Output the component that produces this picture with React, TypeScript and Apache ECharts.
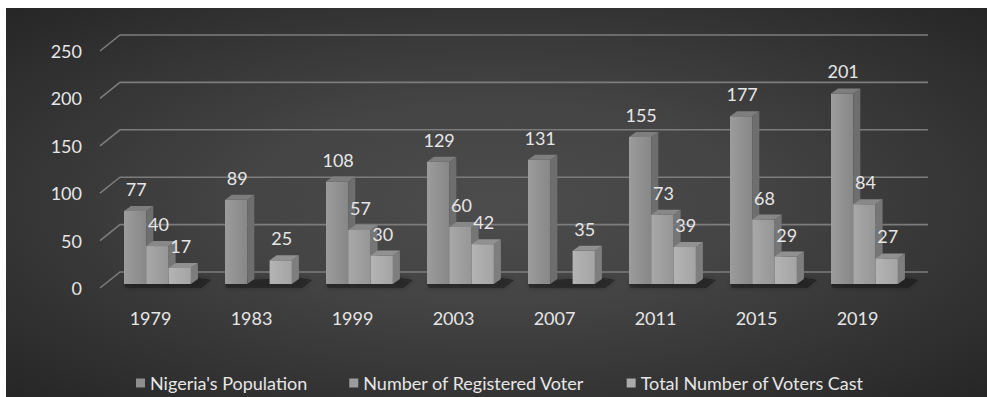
import React, { useEffect, useRef } from "react";
import * as echarts from "echarts";

const categories = ["1979", "1983", "1999", "2003", "2007", "2011", "2015", "2019"];
const population = [77, 89, 108, 129, 131, 155, 177, 201];
const registered: (number | null)[] = [40, null, 57, 60, null, 73, 68, 84];
const votesCast = [17, 25, 30, 42, 35, 39, 29, 27];
const yTicks = [0, 50, 100, 150, 200, 250];
const seriesNames = ["Nigeria's Population", "Number of Registered Voter", "Total Number of Voters Cast"];

const FONT = "Lato";
const FS = 18;
const TXT = "#e6e6e6";
const BAR_W = 22.3;
const START = -26.5;
const BAR_DY = -4;
const DEP_X = 7;
const DEP_Y = -5;

const faces = [
  { front: ["#9c9c9c", "#878787"], side: "#6e6e6e", top: "#7e7e7e" },
  { front: ["#a8a8a8", "#969696"], side: "#767676", top: "#888888" },
  { front: ["#b4b4b4", "#a4a4a4"], side: "#7e7e7e", top: "#919191" },
];

function barRenderer(s: number) {
  return (params: any, api: any) => {
    const idx = api.value(0);
    const v = api.value(1);
    if (!isFinite(v)) return null;
    const base = api.coord([idx, 0]);
    const topP = api.coord([idx, v]);
    const x0 = base[0] + START + s * BAR_W;
    const yb = base[1] + BAR_DY;
    const yt = topP[1] + BAR_DY;
    const f = faces[s];
    return {
      type: "group",
      children: [
        {
          type: "rect",
          shape: { x: x0, y: yt, width: BAR_W, height: yb - yt },
          style: {
            fill: new echarts.graphic.LinearGradient(0, 0, 1, 0, [
              { offset: 0, color: f.front[0] },
              { offset: 1, color: f.front[1] },
            ]),
          },
        },
        {
          type: "polygon",
          shape: {
            points: [
              [x0 + BAR_W, yb],
              [x0 + BAR_W, yt],
              [x0 + BAR_W + DEP_X, yt + DEP_Y],
              [x0 + BAR_W + DEP_X, yb + DEP_Y],
            ],
          },
          style: { fill: f.side },
        },
        {
          type: "polygon",
          shape: {
            points: [
              [x0, yt],
              [x0 + BAR_W, yt],
              [x0 + BAR_W + DEP_X, yt + DEP_Y],
              [x0 + DEP_X, yt + DEP_Y],
            ],
          },
          style: { fill: f.top },
        },
        {
          type: "text",
          style: {
            x: x0 + BAR_W / 2 + 1,
            y: yt - 22,
            text: String(v),
            fill: TXT,
            font: `${FS}px ${FONT}`,
            align: "center",
            verticalAlign: "middle",
          },
        },
      ],
    };
  };
}

export default function App() {
  const ref = useRef<HTMLDivElement>(null);
  useEffect(() => {
    document.body.style.margin = "0";
    const chart = echarts.init(ref.current!, null, { renderer: "svg" });
    const toData = (arr: (number | null)[]) =>
      arr.map((v, i) => (v == null ? null : [i, v])).filter((d) => d !== null);
    chart.setOption({
      animation: false,
      backgroundColor: "#ffffff",
      graphic: [
        {
          type: "rect",
          z: -10,
          shape: { x: 6, y: 8, width: 981, height: 389 },
          style: {
            fill: new echarts.graphic.RadialGradient(0.5, 0.5, 0.75, [
              { offset: 0, color: "#4c4c4c" },
              { offset: 0.35, color: "#444444" },
              { offset: 1, color: "#232323" },
            ]),
          },
        },
      ],
      grid: { left: 100, top: 51, width: 808, height: 237 },
      xAxis: {
        type: "category",
        data: categories,
        axisLine: { show: false },
        axisTick: { show: false },
        axisLabel: { color: TXT, fontSize: FS, fontFamily: FONT, margin: 21 },
      },
      yAxis: {
        type: "value",
        min: 0,
        max: 250,
        interval: 50,
        axisLine: { show: false },
        axisTick: { show: false },
        splitLine: { show: false },
        axisLabel: { color: TXT, fontSize: FS, fontFamily: FONT, margin: 18 },
      },
      legend: {
        data: seriesNames,
        left: 131,
        top: 369,
        icon: "rect",
        itemWidth: 9,
        itemHeight: 9,
        itemGap: 42,
        textStyle: { color: TXT, fontSize: FS, fontFamily: FONT },
      },
      series: [
        {
          type: "custom",
          name: "grid",
          z: 1,
          silent: true,
          data: yTicks.map((v) => [0, v]),
          renderItem: (params: any, api: any) => {
            const p = api.coord([0, api.value(1)]);
            const cs = params.coordSys;
            return {
              type: "polyline",
              shape: {
                points: [
                  [cs.x, p[1]],
                  [cs.x + 20, p[1] - 16],
                  [cs.x + cs.width + 20, p[1] - 16],
                ],
              },
              style: { stroke: "#7c7c7c", lineWidth: 1.6, fill: null },
            };
          },
        },
        {
          type: "custom",
          name: "shadow",
          z: 2,
          silent: true,
          data: categories.map((_, i) => [i, 0]),
          renderItem: (params: any, api: any) => {
            const base = api.coord([api.value(0), 0]);
            const s = base[0] + START;
            const e = s + 3 * BAR_W;
            const yb = base[1] + BAR_DY;
            return {
              type: "polygon",
              shape: {
                points: [
                  [s, yb - 3],
                  [e + 7, yb - 6],
                  [e + 20, yb - 4],
                  [e + 10, yb + 4],
                  [s + 2, yb + 4],
                ],
              },
              style: {
                fill: "rgba(15,15,15,0.45)",
                shadowBlur: 5,
                shadowColor: "rgba(0,0,0,0.6)",
              },
            };
          },
        },
        {
          type: "custom",
          name: seriesNames[0],
          z: 3,
          itemStyle: { color: "#8e8e8e" },
          data: toData(population),
          encode: { x: 0, y: 1 },
          renderItem: barRenderer(0),
        },
        {
          type: "custom",
          name: seriesNames[1],
          z: 4,
          itemStyle: { color: "#9c9c9c" },
          data: toData(registered),
          encode: { x: 0, y: 1 },
          renderItem: barRenderer(1),
        },
        {
          type: "custom",
          name: seriesNames[2],
          z: 5,
          itemStyle: { color: "#aaaaaa" },
          data: toData(votesCast),
          encode: { x: 0, y: 1 },
          renderItem: barRenderer(2),
        },
      ],
    });
    return () => chart.dispose();
  }, []);
  return <div ref={ref} style={{ width: 987, height: 397 }} />;
}
